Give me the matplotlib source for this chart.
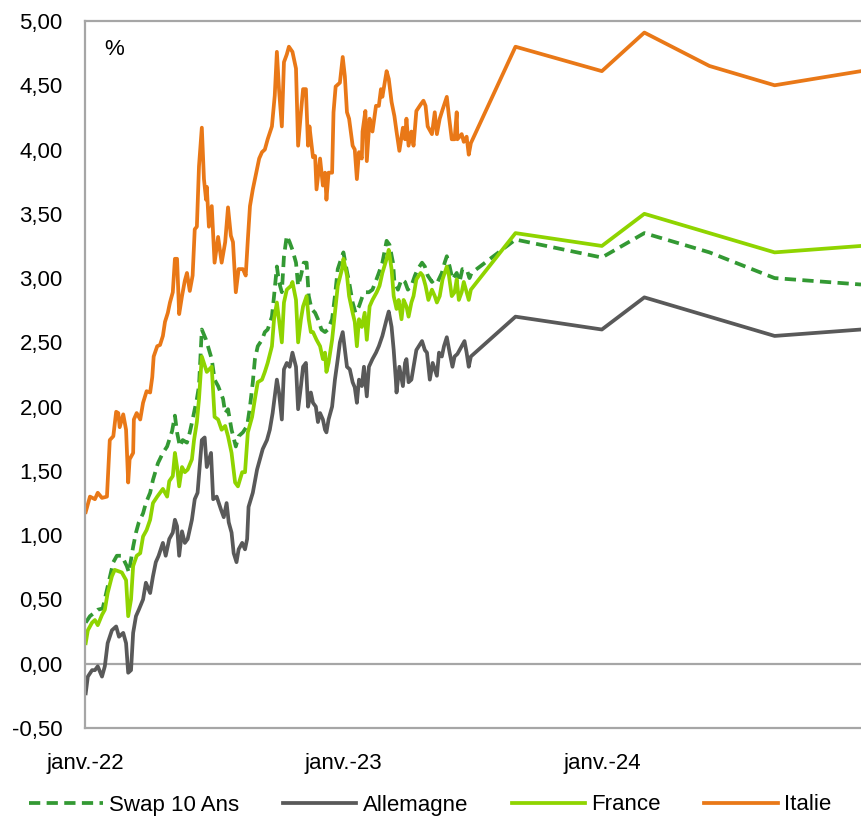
import numpy as np
import matplotlib
matplotlib.use("Agg")
import matplotlib.pyplot as plt
import matplotlib.dates as mdates

plt.rcParams['font.family'] = ['Liberation Sans', 'DejaVu Sans']

# Daily history: days elapsed since 2022-01-01 and yield levels (%)
italy_days = [1, 7, 14, 18, 24, 31, 32, 35, 40, 44, 47, 49, 54, 58, 61, 63, 68, 69, 73, 78,
              82, 87, 92, 95, 97, 102, 106, 110, 113, 117, 120, 124, 127, 130, 133, 137, 141, 144, 148, 152,
              155, 158, 161, 165, 168, 171, 172, 175, 179, 183, 188, 193, 198, 202, 206, 209, 213, 217, 223, 227,
              230, 233, 237, 243, 246, 250, 254, 258, 264, 268, 271, 274, 278, 281, 285, 288, 293, 298, 301, 305,
              308, 312, 315, 317, 322, 325, 327, 332, 336, 339, 341, 344, 349, 351, 354, 360, 364, 367, 370, 373,
              378, 381, 384, 387, 391, 392, 396, 398, 402, 406, 411, 415, 418, 420, 426, 429, 433, 437, 440, 444,
              449, 452, 454, 457, 461, 464, 468, 474, 478, 481, 484, 490, 494, 497, 501, 505, 511, 514, 518, 522,
              525, 526, 532, 535, 539, 542, 545]
italy_vals = [1.18, 1.30, 1.28, 1.33, 1.29, 1.30, 1.41, 1.74, 1.77, 1.96, 1.95, 1.84, 1.94, 1.82, 1.41, 1.59, 1.64, 1.90, 1.95, 1.90,
              2.03, 2.12, 2.11, 2.23, 2.39, 2.47, 2.48, 2.55, 2.66, 2.73, 2.81, 2.89, 3.15, 3.15, 2.72, 2.86, 2.98, 3.04, 2.90, 3.02,
              3.38, 3.40, 3.87, 4.17, 3.77, 3.61, 3.71, 3.40, 3.56, 3.12, 3.32, 3.12, 3.28, 3.55, 3.33, 3.28, 2.89, 3.07, 3.07, 3.02,
              3.30, 3.56, 3.69, 3.85, 3.93, 3.98, 4.00, 4.08, 4.18, 4.42, 4.76, 4.47, 4.18, 4.68, 4.74, 4.80, 4.76, 4.63, 4.03, 4.29,
              4.47, 4.47, 4.03, 4.18, 3.94, 3.95, 3.69, 3.93, 3.72, 3.82, 3.61, 3.82, 3.82, 4.29, 4.49, 4.52, 4.72, 4.57, 4.29, 4.24,
              4.03, 4.00, 3.77, 3.98, 3.93, 4.14, 4.30, 3.91, 4.24, 4.14, 4.34, 4.34, 4.47, 4.41, 4.61, 4.55, 4.37, 4.26, 4.14, 3.99,
              4.17, 4.08, 4.24, 4.03, 4.14, 4.03, 4.30, 4.35, 4.38, 4.34, 4.18, 4.12, 4.29, 4.12, 4.24, 4.31, 4.41, 4.26, 4.08, 4.08,
              4.29, 4.08, 4.12, 4.06, 4.10, 3.96, 4.05]

germany_days = [1, 4, 10, 14, 18, 24, 28, 32, 38, 44, 48, 54, 58, 61, 65, 68, 72, 76, 82, 86,
                92, 96, 100, 104, 110, 114, 119, 124, 127, 130, 133, 137, 141, 145, 151, 155, 159, 165, 169, 172,
                178, 181, 186, 192, 196, 200, 203, 207, 210, 214, 217, 222, 226, 229, 231, 237, 243, 247, 251, 257,
                261, 265, 271, 274, 278, 281, 285, 289, 293, 298, 301, 305, 308, 312, 315, 319, 322, 326, 329, 332,
                336, 339, 341, 344, 349, 353, 357, 360, 364, 370, 374, 378, 381, 384, 387, 391, 394, 398, 401, 406,
                411, 415, 420, 426, 429, 433, 436, 439, 440, 444, 449, 452, 454, 457, 461, 464, 468, 476, 480, 483,
                487, 491, 497, 500, 504, 507, 511, 515, 519, 522, 526, 532, 536, 539, 542, 545]
germany_vals = [-0.23, -0.10, -0.05, -0.05, -0.02, -0.10, -0.02, 0.16, 0.26, 0.29, 0.21, 0.24, 0.16, -0.07, -0.05, 0.24, 0.37, 0.42, 0.50, 0.63,
                0.55, 0.68, 0.79, 0.84, 0.94, 0.84, 0.97, 1.02, 1.12, 1.07, 0.84, 1.03, 0.94, 0.97, 1.12, 1.28, 1.33, 1.74, 1.76, 1.53,
                1.64, 1.28, 1.30, 1.20, 1.14, 1.25, 1.10, 1.02, 0.86, 0.79, 0.89, 0.94, 0.89, 0.97, 1.22, 1.33, 1.51, 1.59, 1.67, 1.74,
                1.82, 1.95, 2.21, 2.11, 1.90, 2.29, 2.34, 2.31, 2.42, 2.31, 1.98, 2.16, 2.31, 2.34, 2.00, 2.11, 2.03, 2.00, 1.88, 1.95,
                1.90, 1.82, 1.80, 1.90, 2.00, 2.21, 2.37, 2.50, 2.58, 2.31, 2.29, 2.19, 2.15, 2.03, 2.21, 2.16, 2.31, 2.08, 2.31, 2.37,
                2.42, 2.47, 2.55, 2.68, 2.74, 2.62, 2.44, 2.21, 2.11, 2.31, 2.16, 2.34, 2.37, 2.19, 2.21, 2.31, 2.44, 2.51, 2.44, 2.42,
                2.21, 2.34, 2.24, 2.42, 2.39, 2.47, 2.54, 2.42, 2.31, 2.39, 2.41, 2.47, 2.51, 2.42, 2.31, 2.39]

france_days = [1, 4, 10, 14, 18, 24, 28, 32, 38, 42, 47, 52, 58, 61, 65, 68, 73, 78, 82, 87,
               92, 96, 102, 106, 110, 116, 119, 124, 127, 130, 133, 137, 141, 145, 151, 154, 158, 161, 165, 172,
               179, 183, 188, 193, 198, 202, 207, 212, 216, 222, 226, 230, 236, 240, 244, 250, 254, 258, 264, 267,
               271, 274, 278, 281, 285, 291, 293, 298, 301, 305, 308, 313, 316, 319, 322, 327, 332, 336, 339, 341,
               344, 349, 353, 357, 363, 365, 370, 373, 378, 381, 384, 387, 391, 395, 398, 402, 406, 412, 416, 420,
               426, 429, 433, 436, 440, 443, 447, 450, 454, 457, 461, 464, 468, 474, 477, 481, 485, 490, 494, 497,
               501, 505, 511, 514, 518, 522, 525, 528, 532, 535, 539, 542, 545]
france_vals = [0.16, 0.26, 0.32, 0.34, 0.30, 0.38, 0.42, 0.55, 0.68, 0.73, 0.72, 0.71, 0.65, 0.37, 0.50, 0.76, 0.84, 0.86, 0.99, 1.04,
               1.12, 1.25, 1.30, 1.33, 1.36, 1.30, 1.42, 1.46, 1.64, 1.53, 1.38, 1.53, 1.49, 1.51, 1.59, 1.74, 1.88, 2.06, 2.39, 2.27,
               2.31, 1.92, 1.90, 1.82, 1.85, 1.77, 1.64, 1.41, 1.38, 1.49, 1.49, 1.80, 1.92, 2.06, 2.19, 2.21, 2.27, 2.34, 2.47, 2.68,
               2.81, 2.68, 2.50, 2.81, 2.91, 2.94, 2.97, 2.83, 2.50, 2.68, 2.78, 2.86, 2.68, 2.58, 2.58, 2.52, 2.47, 2.37, 2.42, 2.27,
               2.34, 2.52, 2.73, 2.94, 3.07, 3.15, 3.02, 2.86, 2.73, 2.66, 2.47, 2.68, 2.62, 2.73, 2.52, 2.78, 2.83, 2.89, 2.94, 3.04,
               3.15, 3.22, 3.07, 2.86, 2.76, 2.83, 2.68, 2.83, 2.78, 2.70, 2.81, 2.86, 2.99, 3.04, 3.02, 2.94, 2.83, 2.91, 2.86, 2.81,
               2.86, 2.99, 3.09, 3.02, 2.86, 2.89, 2.99, 2.83, 2.89, 2.97, 2.89, 2.83, 2.91]

swap_days = [1, 7, 14, 18, 25, 32, 40, 45, 52, 59, 62, 68, 72, 76, 82, 86, 92, 96, 103, 110,
             116, 123, 127, 130, 134, 138, 144, 148, 152, 158, 161, 165, 171, 179, 183, 188, 195, 198, 202, 207,
             213, 217, 223, 229, 233, 237, 240, 244, 250, 254, 258, 264, 267, 271, 274, 278, 281, 285, 289, 293,
             298, 301, 305, 309, 313, 316, 320, 325, 329, 334, 339, 343, 349, 353, 357, 363, 365, 370, 373, 378,
             382, 387, 392, 396, 401, 406, 411, 415, 420, 426, 430, 435, 437, 442, 447, 452, 456, 461, 466, 470,
             476, 480, 484, 490, 494, 498, 504, 508, 511, 515, 519, 525, 529, 533, 539, 543, 546]
swap_vals = [0.32, 0.37, 0.40, 0.42, 0.43, 0.60, 0.79, 0.84, 0.84, 0.76, 0.71, 0.91, 1.02, 1.10, 1.17, 1.25, 1.33, 1.43, 1.56, 1.64,
             1.69, 1.81, 1.93, 1.80, 1.69, 1.74, 1.72, 1.80, 1.90, 2.06, 2.16, 2.60, 2.52, 2.37, 2.21, 2.16, 2.06, 1.95, 1.98, 1.82,
             1.69, 1.77, 1.80, 1.85, 2.00, 2.19, 2.37, 2.47, 2.52, 2.58, 2.60, 2.70, 2.86, 3.09, 2.97, 2.89, 3.17, 3.33, 3.28, 3.22,
             3.12, 2.94, 3.02, 3.12, 3.12, 2.86, 2.76, 2.73, 2.68, 2.60, 2.58, 2.60, 2.68, 2.86, 3.07, 3.17, 3.20, 3.05, 2.97, 2.81,
             2.73, 2.78, 2.86, 2.89, 2.89, 2.91, 2.98, 3.04, 3.12, 3.29, 3.26, 3.12, 2.97, 2.91, 2.99, 2.97, 2.91, 2.94, 3.02, 3.07,
             3.12, 3.09, 3.02, 2.97, 2.99, 2.97, 3.04, 3.12, 3.17, 3.09, 2.99, 3.04, 2.97, 3.07, 3.07, 3.00, 3.04]

# Forecast horizon
forecast_dates = ['2023-09-01', '2024-01-01', '2024-03-01', '2024-06-01', '2024-09-01', '2025-01-01']
italy_fc = [4.80, 4.61, 4.91, 4.65, 4.50, 4.61]
france_fc = [3.35, 3.25, 3.50, 3.35, 3.20, 3.25]
swap_fc = [3.30, 3.16, 3.35, 3.20, 3.00, 2.95]
germany_fc = [2.70, 2.60, 2.85, 2.70, 2.55, 2.60]

start = np.datetime64('2022-01-01')
fc_x = np.array(forecast_dates, dtype='datetime64[D]')


def build(days, hist, fc):
    x = start + np.array(days).astype('timedelta64[D]')
    return np.concatenate([x, fc_x]), np.concatenate([hist, fc])


fig = plt.figure(figsize=(8.61, 8.19), dpi=100)
ax = fig.add_axes([85 / 861, 1 - 728 / 819, 1 - 85 / 861, 707 / 819])

lw = 2.7
x, y = build(swap_days, swap_vals, swap_fc)
ax.plot(x, y, color='#339933', lw=lw, dashes=(3.0, 1.7), label='Swap 10 Ans')
x, y = build(germany_days, germany_vals, germany_fc)
ax.plot(x, y, color='#595959', lw=lw, label='Allemagne')
x, y = build(france_days, france_vals, france_fc)
ax.plot(x, y, color='#8FD400', lw=lw, label='France')
x, y = build(italy_days, italy_vals, italy_fc)
ax.plot(x, y, color='#E97817', lw=lw, label='Italie')

ax.axhline(0, color='#A6A6A6', lw=1.6, zorder=0)

ax.set_xlim(np.datetime64('2022-01-01'), np.datetime64('2025-01-01'))
ax.set_ylim(-0.5, 5.0)
ax.set_yticks(np.arange(-0.5, 5.01, 0.5))
ax.yaxis.set_major_formatter(plt.FuncFormatter(lambda v, p: f"{v:.2f}".replace('.', ',')))

month_fr = ['janv.', 'févr.', 'mars', 'avr.', 'mai', 'juin', 'juil.', 'août', 'sept.', 'oct.', 'nov.', 'déc.']
ax.set_xticks(np.array(['2022-01-01', '2023-01-01', '2024-01-01'], dtype='datetime64[D]'))
ax.xaxis.set_major_formatter(plt.FuncFormatter(
    lambda v, p: f"{month_fr[mdates.num2date(v).month - 1]}-{mdates.num2date(v).year % 100:02d}"))

ax.tick_params(axis='both', length=0, labelsize=16, colors='black')
ax.tick_params(axis='y', pad=16)
ax.tick_params(axis='x', pad=18)

for side in ['left', 'top', 'bottom']:
    ax.spines[side].set_color('#A6A6A6')
    ax.spines[side].set_linewidth(1.6)
ax.spines['right'].set_visible(False)

ax.text(0.025, 0.975, '%', transform=ax.transAxes, fontsize=16, va='top', ha='left')

fig.legend(loc='center', bbox_to_anchor=(0.5, 1 - 805 / 819), ncol=4, frameon=False,
           fontsize=16, handlelength=3.3, handletextpad=0.3, columnspacing=1.95,
           borderaxespad=0)

fig.savefig('out.png', dpi=100)
